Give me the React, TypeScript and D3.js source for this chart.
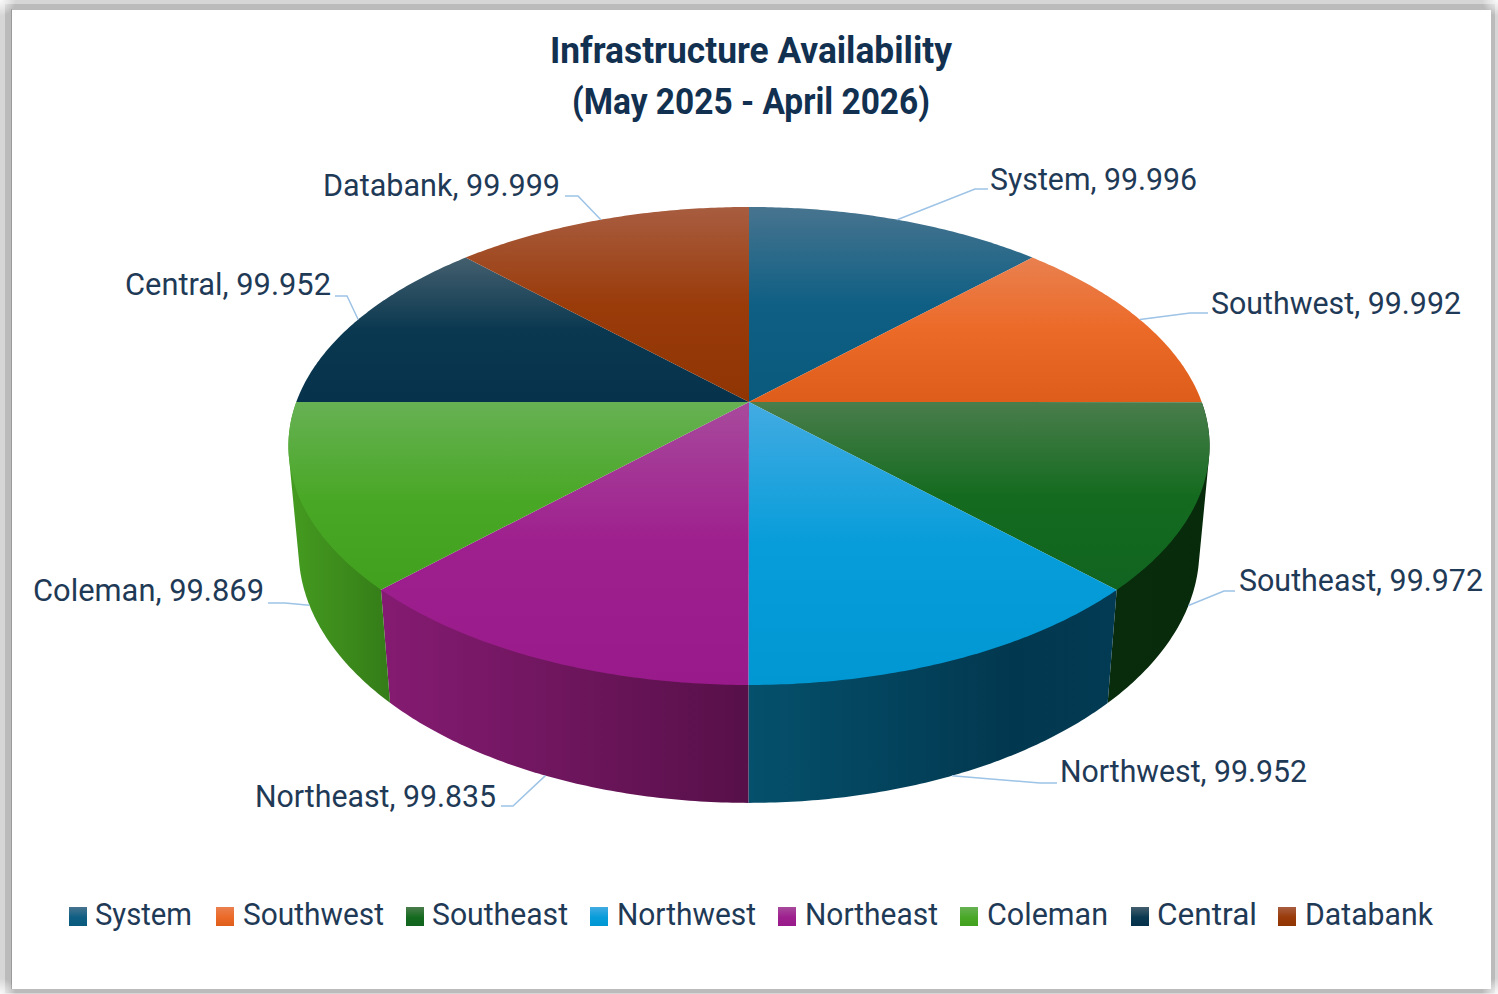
import React from "react";
import * as d3 from "d3";

const categories = ["System", "Southwest", "Southeast", "Northwest", "Northeast", "Coleman", "Central", "Databank"];
const availability = [99.996, 99.992, 99.972, 99.952, 99.835, 99.869, 99.952, 99.999];
const titleLines = ["Infrastructure Availability", "(May 2025 - April 2026)"];

// Top-face gradient stops per slice (sheen, base, lower)
const topSheen = ["#47748f", "#e9804f", "#4a7d4c", "#43abe2", "#a84a9c", "#67b154", "#445f6e", "#a85d40"];
const topBase = ["#0f5f84", "#ec6a28", "#146b1f", "#079dda", "#9e1f8e", "#4aa827", "#0a3850", "#9a3b0a"];
const topLow = ["#0a5a7e", "#df5d1a", "#116420", "#0097d3", "#991a8a", "#41a01e", "#06334b", "#8f3503"];
const sideLeft = ["#0a5a7e", "#df5d1a", "#082c0c", "#05506c", "#851b72", "#459c20", "#06334b", "#8f3503"];
const sideRight = ["#0a5a7e", "#df5d1a", "#072a0b", "#02384f", "#571049", "#347c18", "#06334b", "#8f3503"];

// Layout
const W = 1498, H = 994;
const cx = 749, cy = 402;
const persp = { b: 452.7, a: 230.9, k: -0.184, m: 0.0219, d: 105 };
const TEXT = "#1f3a56", TITLE = "#12304f", LEADER = "#9dc3e6";
const FONT = "Roboto, 'Noto Sans', sans-serif";

// x start, x end, baseline for each data label
const labelBox = [
  [990, 1197, 190], [1211, 1461, 314], [1239, 1483, 591], [1060, 1307, 782],
  [255, 496, 806.5], [33, 264, 601], [125, 331, 295], [323, 560, 196],
];
// label-side points of each leader, and which face the leader lands on (0 top rim, 1 bottom rim)
const leaderEnds = [
  [[988, 189], [975, 189]], [[1208, 313], [1190, 313]], [[1235, 591], [1224, 591]], [[1057, 783], [1040, 783]],
  [[501, 806], [513, 806]], [[268, 603], [285, 603]], [[335, 296], [347, 296]], [[565, 196], [578, 196]],
];
const leaderFace = [0, 0, 1, 1, 1, 1, 0, 0];
const legendSwatchX = [69, 216, 406, 590, 778, 960, 1131, 1278];
const legendText = [[95, 192], [243, 384], [432, 568], [617, 756], [805, 938], [987, 1108], [1157, 1257], [1305, 1433]];
const titleBox = [[550, 952, 62.5], [572, 930, 113.5]];

type P = [number, number];
// Perspective projection of a disc; depth 0 = top rim, 1 = bottom rim; angle clockwise from top
const project = (ang: number, r: number, depth: number): P => {
  const u = r * Math.sin(ang), v = -r * Math.cos(ang);
  const w = 1 + persp.k * v + persp.m * depth;
  return [cx + (persp.b * u) / w, cy + (persp.a * v + persp.d * depth) / w];
};

const arcPts = (a0: number, a1: number, depth: number): P[] => {
  const n = Math.max(2, Math.ceil(Math.abs(a1 - a0) / 0.01));
  return d3.range(n + 1).map((i) => project(a0 + ((a1 - a0) * i) / n, 1, depth));
};

const line = d3.line<P>().x((d) => d[0]).y((d) => d[1]);
const arcs = d3.pie<number>().sort(null)(availability);

const frontMin = Math.PI * 0.5, frontMax = Math.PI * 1.5;

const Frame = () => (
  <g>
    <rect width={W} height={H} fill="#d6d6d6" />
    <rect x={5} y={4} width={W - 8} height={H - 5} fill="#bbbbbb" />
    <rect x={11} y={9} width={1} height={H - 14} fill="#9a9a9a" />
    <rect x={12} y={10} width={1479} height={979} fill="#ffffff" />
    {[[0, 0], [W, 0], [0, H], [W, H]].map(([x, y], i) => (
      <circle key={i} cx={x} cy={y} r={16} fill="url(#corner)" />
    ))}
  </g>
);

export default function App() {
  return (
    <svg width={W} height={H} viewBox={`0 0 ${W} ${H}`} style={{ position: "absolute", left: 0, top: 0, display: "block" }}>
      <defs>
        <radialGradient id="corner">
          <stop offset="0" stopColor="#ffffff" stopOpacity={0.9} />
          <stop offset="1" stopColor="#ffffff" stopOpacity={0} />
        </radialGradient>
        {categories.map((_, i) => (
          <React.Fragment key={i}>
            <linearGradient id={`top${i}`} x1="0" y1="0" x2="0" y2="1">
              <stop offset="0" stopColor={topSheen[i]} />
              <stop offset="0.5" stopColor={topBase[i]} />
              <stop offset="1" stopColor={topLow[i]} />
            </linearGradient>
            <linearGradient id={`side${i}`} x1="0" y1="0" x2="1" y2="0">
              <stop offset="0" stopColor={sideLeft[i]} />
              <stop offset="0.72" stopColor={i === 3 ? sideRight[i] : d3.interpolateRgb(sideLeft[i], sideRight[i])(0.72)} />
              <stop offset="1" stopColor={i === 3 ? "#033b54" : sideRight[i]} />
            </linearGradient>
            <linearGradient id={`swatch${i}`} x1="0" y1="0" x2="0" y2="1">
              <stop offset="0" stopColor={topSheen[i]} />
              <stop offset="0.55" stopColor={topBase[i]} />
              <stop offset="1" stopColor={topLow[i]} />
            </linearGradient>
          </React.Fragment>
        ))}
      </defs>

      <Frame />

      {titleLines.map((t, i) => (
        <text key={t} x={titleBox[i][0]} y={titleBox[i][2]} textLength={titleBox[i][1] - titleBox[i][0]} lengthAdjust="spacingAndGlyphs"
          fontFamily={FONT} fontWeight={700} fontSize={37} fill={TITLE}>{t}</text>
      ))}

      {/* Side walls: hull of both rims, so the tangent edge of the drum is filled */}
      {arcs.map((s, i) => {
        const a0 = Math.max(s.startAngle, frontMin), a1 = Math.min(s.endAngle, frontMax);
        if (a1 <= a0) return null;
        const hull = d3.polygonHull([...arcPts(a0, a1, 0), ...arcPts(a0, a1, 1)]) as P[];
        return <path key={i} d={line(hull)! + "Z"} fill={`url(#side${i})`} />;
      })}

      {/* Top face */}
      {arcs.map((s, i) => {
        const pts: P[] = [project(0, 0, 0), ...arcPts(s.startAngle, s.endAngle, 0)];
        return <path key={i} d={line(pts)! + "Z"} fill={`url(#top${i})`} />;
      })}

      {/* Leaders */}
      {arcs.map((s, i) => {
        const mid = (s.startAngle + s.endAngle) / 2;
        const pts: P[] = [leaderEnds[i][0] as P, leaderEnds[i][1] as P, project(mid, 1, leaderFace[i])];
        return <path key={i} d={line(pts)!} fill="none" stroke={LEADER} strokeWidth={1.5} />;
      })}

      {/* Data labels */}
      {categories.map((c, i) => (
        <text key={c} x={labelBox[i][0]} y={labelBox[i][2]} textLength={labelBox[i][1] - labelBox[i][0]} lengthAdjust="spacingAndGlyphs"
          fontFamily={FONT} fontSize={32} fill={TEXT}>{`${c}, ${availability[i].toFixed(3)}`}</text>
      ))}

      {/* Legend */}
      {categories.map((c, i) => (
        <g key={c}>
          <rect x={legendSwatchX[i]} y={907} width={18} height={19} fill={`url(#swatch${i})`} />
          <text x={legendText[i][0]} y={925} textLength={legendText[i][1] - legendText[i][0]} lengthAdjust="spacingAndGlyphs"
            fontFamily={FONT} fontSize={32} fill={TEXT}>{c}</text>
        </g>
      ))}
    </svg>
  );
}
